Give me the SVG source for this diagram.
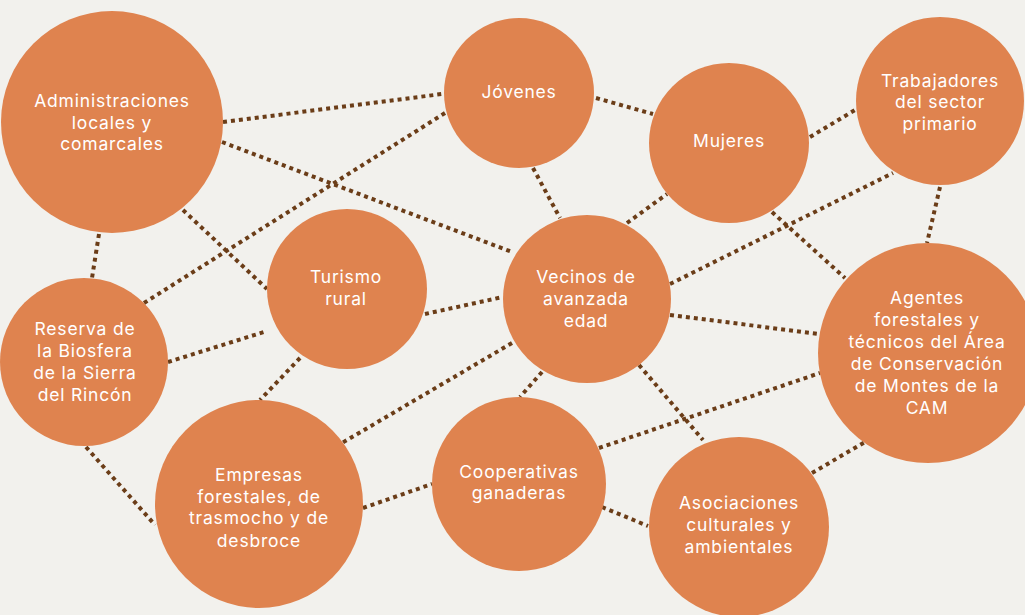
<svg xmlns="http://www.w3.org/2000/svg" width="1025" height="615" viewBox="0 0 1025 615">
<style>
.bg{fill:#F2F1ED}
.n{fill:#DF834F}
.c line{stroke:#6B3D18;stroke-width:4;stroke-dasharray:4 4;fill:none}
text{font-family:Inter,"Open Sans","Liberation Sans",sans-serif;font-size:17.5px;fill:#FFFFFF;text-anchor:middle;letter-spacing:0.8px}
</style>
<rect class="bg" x="0" y="0" width="1025" height="615"/>
<g id="connectors" class="c">
<line x1="223" y1="122" x2="442" y2="94"/>
<line x1="222" y1="142" x2="512" y2="252"/>
<line x1="445" y1="113" x2="144" y2="303"/>
<line x1="183" y1="210" x2="267" y2="289"/>
<line x1="99" y1="234" x2="92" y2="278"/>
<line x1="168" y1="362" x2="264" y2="332"/>
<line x1="425" y1="314" x2="503" y2="297"/>
<line x1="300" y1="358" x2="260" y2="400"/>
<line x1="512" y1="343" x2="342" y2="443"/>
<line x1="542" y1="372" x2="520" y2="397"/>
<line x1="639" y1="365" x2="703" y2="440"/>
<line x1="670" y1="315" x2="819" y2="334"/>
<line x1="627" y1="223" x2="667" y2="194"/>
<line x1="670" y1="284" x2="893" y2="173"/>
<line x1="772" y1="212" x2="845" y2="278"/>
<line x1="810" y1="137" x2="855" y2="110"/>
<line x1="940" y1="187" x2="927" y2="243"/>
<line x1="596" y1="98" x2="653" y2="114"/>
<line x1="533" y1="168" x2="560" y2="218"/>
<line x1="86" y1="447" x2="155" y2="525"/>
<line x1="363" y1="508" x2="432" y2="484"/>
<line x1="599" y1="448" x2="820" y2="373"/>
<line x1="602" y1="507" x2="648" y2="526"/>
<line x1="812" y1="473" x2="865" y2="442"/>
</g>
<g id="administraciones"><circle class="n" cx="112" cy="122" r="111"/><text x="112" y="107">Administraciones</text><text x="112" y="129">locales y</text><text x="112" y="150">comarcales</text></g>
<g id="jovenes"><circle class="n" cx="519" cy="93" r="75"/><text x="519" y="98">Jóvenes</text></g>
<g id="mujeres"><circle class="n" cx="729" cy="143" r="80"/><text x="729" y="147">Mujeres</text></g>
<g id="trabajadores"><circle class="n" cx="940" cy="101" r="84"/><text x="940" y="87">Trabajadores</text><text x="940" y="108">del sector</text><text x="940" y="130">primario</text></g>
<g id="reserva"><circle class="n" cx="84" cy="362" r="84"/><text x="85" y="335">Reserva de</text><text x="85" y="357">la Biosfera</text><text x="85" y="379">de la Sierra</text><text x="85" y="401">del Rincón</text></g>
<g id="turismo"><circle class="n" cx="347" cy="289" r="80"/><text x="346" y="283">Turismo</text><text x="346" y="305">rural</text></g>
<g id="vecinos"><circle class="n" cx="587" cy="299" r="84"/><text x="586" y="283">Vecinos de</text><text x="586" y="305">avanzada</text><text x="586" y="327">edad</text></g>
<g id="agentes"><circle class="n" cx="928" cy="353" r="110"/><text x="927" y="304">Agentes</text><text x="927" y="326">forestales y</text><text x="927" y="348">técnicos del Área</text><text x="927" y="370">de Conservación</text><text x="927" y="392">de Montes de la</text><text x="927" y="414">CAM</text></g>
<g id="empresas"><circle class="n" cx="259" cy="504" r="104"/><text x="259" y="481">Empresas</text><text x="259" y="503">forestales, de</text><text x="259" y="524">trasmocho y de</text><text x="259" y="547">desbroce</text></g>
<g id="cooperativas"><circle class="n" cx="519" cy="484" r="87"/><text x="519" y="478">Cooperativas</text><text x="519" y="499">ganaderas</text></g>
<g id="asociaciones"><circle class="n" cx="739" cy="527" r="90"/><text x="739" y="509">Asociaciones</text><text x="739" y="531">culturales y</text><text x="739" y="553">ambientales</text></g>
</svg>
